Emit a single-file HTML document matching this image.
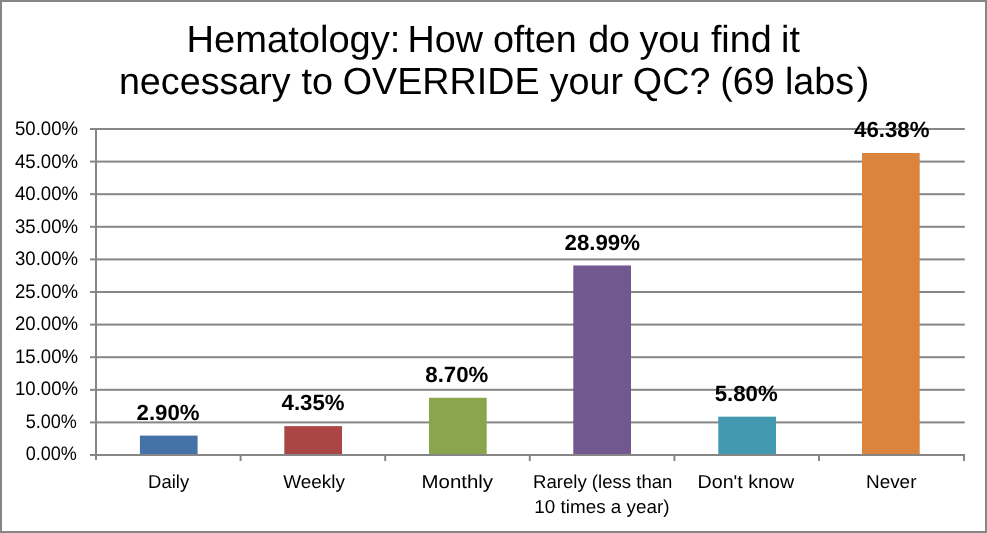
<!DOCTYPE html>
<html lang="en"><head><meta charset="utf-8"><title>Hematology QC override chart</title>
<style>html,body{margin:0;padding:0;background:#fff}svg{display:block}text{text-rendering:geometricPrecision;font-family:"Liberation Sans",Arial,sans-serif;fill:#000}.t{font-size:37.7px}.a{font-size:18.7px}.y{font-size:19.6px}.d{font-size:22px;font-weight:bold}</style></head><body>
<svg width="987" height="533" viewBox="0 0 987 533">
<rect x="0" y="0" width="987" height="533" fill="#fff"/>
<rect x="1" y="1" width="985" height="531" fill="none" stroke="#868686" stroke-width="2"/>
<rect x="90" y="454.00" width="874.80" height="2" fill="#868686"/>
<rect x="90" y="421.40" width="874.80" height="2" fill="#868686"/>
<rect x="90" y="388.80" width="874.80" height="2" fill="#868686"/>
<rect x="90" y="356.20" width="874.80" height="2" fill="#868686"/>
<rect x="90" y="323.60" width="874.80" height="2" fill="#868686"/>
<rect x="90" y="291.00" width="874.80" height="2" fill="#868686"/>
<rect x="90" y="258.40" width="874.80" height="2" fill="#868686"/>
<rect x="90" y="225.80" width="874.80" height="2" fill="#868686"/>
<rect x="90" y="193.20" width="874.80" height="2" fill="#868686"/>
<rect x="90" y="160.60" width="874.80" height="2" fill="#868686"/>
<rect x="90" y="128.00" width="874.80" height="2" fill="#868686"/>
<rect x="95.0" y="128.0" width="2" height="332.0" fill="#868686"/>
<rect x="239.60" y="454.0" width="2" height="7" fill="#868686"/>
<rect x="384.20" y="454.0" width="2" height="7" fill="#868686"/>
<rect x="528.80" y="454.0" width="2" height="7" fill="#868686"/>
<rect x="673.40" y="454.0" width="2" height="7" fill="#868686"/>
<rect x="818.00" y="454.0" width="2" height="7" fill="#868686"/>
<rect x="963.00" y="454.0" width="2" height="7" fill="#868686"/>
<rect x="139.90" y="435.59" width="57.70" height="18.41" fill="#4572A7"/>
<rect x="284.30" y="426.14" width="57.70" height="27.86" fill="#AA4643"/>
<rect x="429.00" y="397.78" width="57.70" height="56.22" fill="#89A54E"/>
<rect x="573.30" y="265.49" width="57.70" height="188.51" fill="#71588F"/>
<rect x="718.30" y="416.68" width="57.70" height="37.32" fill="#4198AF"/>
<rect x="862.00" y="153.00" width="57.70" height="301.00" fill="#DB843D"/>
<text class="t" y="51.5"><tspan x="186.60" textLength="213.85" lengthAdjust="spacingAndGlyphs">Hematology:</tspan> <tspan x="407.52" textLength="75.41" lengthAdjust="spacingAndGlyphs">How</tspan> <tspan x="492.90" textLength="83.83" lengthAdjust="spacingAndGlyphs">often</tspan> <tspan x="588.15" textLength="41.92" lengthAdjust="spacingAndGlyphs">do</tspan> <tspan x="639.53" textLength="60.77" lengthAdjust="spacingAndGlyphs">you</tspan> <tspan x="710.88" textLength="60.77" lengthAdjust="spacingAndGlyphs">find</tspan> <tspan x="781.10" textLength="18.84" lengthAdjust="spacingAndGlyphs">it</tspan></text>
<text class="t" y="94.4"><tspan x="118.92" textLength="171.77" lengthAdjust="spacingAndGlyphs">necessary</tspan> <tspan x="301.43" textLength="31.44" lengthAdjust="spacingAndGlyphs">to</tspan> <tspan x="342.75" textLength="196.86" lengthAdjust="spacingAndGlyphs">OVERRIDE</tspan> <tspan x="549.73" textLength="73.33" lengthAdjust="spacingAndGlyphs">your</tspan> <tspan x="632.85" textLength="77.50" lengthAdjust="spacingAndGlyphs">QC?</tspan> <tspan x="720.30" textLength="54.48" lengthAdjust="spacingAndGlyphs">(69</tspan> <tspan x="784.93" textLength="69.14" lengthAdjust="spacingAndGlyphs">labs</tspan><tspan x="856.70" textLength="12.56" lengthAdjust="spacingAndGlyphs">)</tspan></text>
<text class="y" x="25.63" y="460.00" textLength="51.24" lengthAdjust="spacingAndGlyphs">0.00%</text>
<text class="y" x="25.63" y="427.50" textLength="51.24" lengthAdjust="spacingAndGlyphs">5.00%</text>
<text class="y" x="15.01" y="395.00" textLength="63.09" lengthAdjust="spacingAndGlyphs">10.00%</text>
<text class="y" x="15.01" y="362.50" textLength="63.09" lengthAdjust="spacingAndGlyphs">15.00%</text>
<text class="y" x="15.01" y="330.00" textLength="63.09" lengthAdjust="spacingAndGlyphs">20.00%</text>
<text class="y" x="15.01" y="297.50" textLength="63.09" lengthAdjust="spacingAndGlyphs">25.00%</text>
<text class="y" x="15.01" y="265.00" textLength="63.09" lengthAdjust="spacingAndGlyphs">30.00%</text>
<text class="y" x="15.01" y="232.50" textLength="63.09" lengthAdjust="spacingAndGlyphs">35.00%</text>
<text class="y" x="15.01" y="200.00" textLength="63.09" lengthAdjust="spacingAndGlyphs">40.00%</text>
<text class="y" x="15.01" y="167.50" textLength="63.09" lengthAdjust="spacingAndGlyphs">45.00%</text>
<text class="y" x="15.01" y="135.00" textLength="63.09" lengthAdjust="spacingAndGlyphs">50.00%</text>
<text class="a" x="148.12" y="487.70" textLength="41.03" lengthAdjust="spacingAndGlyphs">Daily</text>
<text class="a" x="283.23" y="487.70" textLength="61.77" lengthAdjust="spacingAndGlyphs">Weekly</text>
<text class="a" x="421.56" y="487.70" textLength="71.55" lengthAdjust="spacingAndGlyphs">Monthly</text>
<text class="a" x="533.01" y="487.70" textLength="139.40" lengthAdjust="spacingAndGlyphs">Rarely (less than</text>
<text class="a" x="534.39" y="512.80" textLength="135.07" lengthAdjust="spacingAndGlyphs">10 times a year)</text>
<text class="a" x="697.62" y="487.70" textLength="96.50" lengthAdjust="spacingAndGlyphs">Don't know</text>
<text class="a" x="865.98" y="487.70" textLength="50.48" lengthAdjust="spacingAndGlyphs">Never</text>
<text class="d" x="136.57" y="419.80" textLength="63.08" lengthAdjust="spacingAndGlyphs">2.90%</text>
<text class="d" x="281.57" y="410.20" textLength="63.08" lengthAdjust="spacingAndGlyphs">4.35%</text>
<text class="d" x="425.31" y="382.00" textLength="63.08" lengthAdjust="spacingAndGlyphs">8.70%</text>
<text class="d" x="564.52" y="249.80" textLength="75.45" lengthAdjust="spacingAndGlyphs">28.99%</text>
<text class="d" x="714.66" y="400.80" textLength="63.08" lengthAdjust="spacingAndGlyphs">5.80%</text>
<text class="d" x="854.02" y="136.70" textLength="75.45" lengthAdjust="spacingAndGlyphs">46.38%</text>
</svg></body></html>
